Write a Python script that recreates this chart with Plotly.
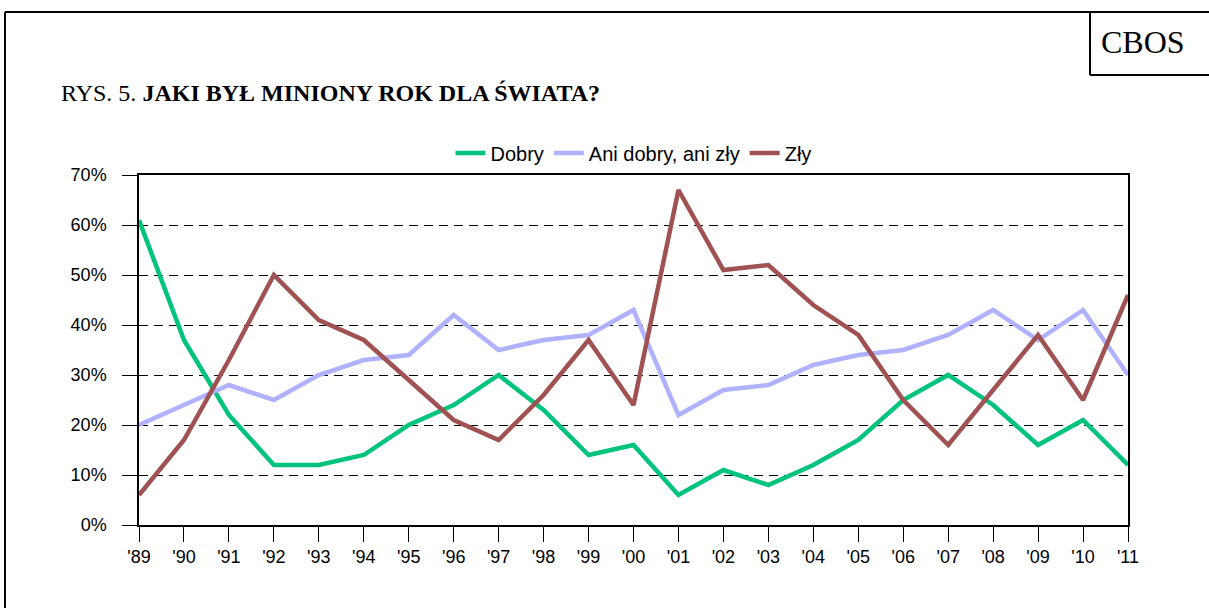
import plotly.graph_objects as go

years = ["'89", "'90", "'91", "'92", "'93", "'94", "'95", "'96", "'97", "'98", "'99", "'00",
         "'01", "'02", "'03", "'04", "'05", "'06", "'07", "'08", "'09", "'10", "'11"]
dobry = [61, 37, 22, 12, 12, 14, 20, 24, 30, 23, 14, 16, 6, 11, 8, 12, 17, 25, 30, 24, 16, 21, 12]
ani = [20, 24, 28, 25, 30, 33, 34, 42, 35, 37, 38, 43, 22, 27, 28, 32, 34, 35, 38, 43, 37, 43, 30]
zly = [6, 17, 33, 50, 41, 37, 29, 21, 17, 26, 37, 24, 67, 51, 52, 44, 38, 25, 16, 27, 38, 25, 46]
yticks = [0, 10, 20, 30, 40, 50, 60, 70]
ytick_labels = [f"{v}%" for v in yticks]

W, H = 1209, 608
L, R, T, B = 139, 1128, 175, 525


def px(x):
    return (x - L) / (R - L)


def py(y):
    return (B - y) / (B - T)


fig = go.Figure()
series = [("Dobry", dobry, "#00C47E"), ("Ani dobry, ani zły", ani, "#B0B2FF"), ("Zły", zly, "#A05252")]
for name, vals, col in series:
    fig.add_trace(go.Scatter(x=list(range(len(years))), y=vals, name=name, mode="lines",
                             line=dict(color=col, width=4.5)))

shapes = []
# page frame
shapes.append(dict(type="line", xref="paper", yref="paper", x0=px(5), x1=px(5), y0=py(12), y1=py(620),
                   line=dict(color="black", width=2)))
shapes.append(dict(type="line", xref="paper", yref="paper", x0=px(5), x1=px(1215), y0=py(12), y1=py(12),
                   line=dict(color="black", width=2)))
# CBOS box
shapes.append(dict(type="line", xref="paper", yref="paper", x0=px(1090), x1=px(1090), y0=py(12), y1=py(75),
                   line=dict(color="black", width=2)))
shapes.append(dict(type="line", xref="paper", yref="paper", x0=px(1090), x1=px(1215), y0=py(75), y1=py(75),
                   line=dict(color="black", width=2)))

annotations = [
    dict(text="CBOS", xref="paper", yref="paper", x=px(1143), y=py(42), xanchor="center", yanchor="middle",
         showarrow=False, font=dict(family="Liberation Serif", size=32, color="black")),
    dict(text="RYS. 5. <b>JAKI BYŁ MINIONY ROK DLA ŚWIATA?</b>", xref="paper", yref="paper",
         x=px(59), y=py(93), xanchor="left", yanchor="middle", showarrow=False,
         font=dict(family="Liberation Serif", size=24, color="black")),
]

fig.update_layout(
    width=W, height=H,
    margin=dict(l=L, r=W - R, t=T, b=H - B),
    paper_bgcolor="white", plot_bgcolor="white",
    showlegend=True,
    legend=dict(orientation="h", x=0.5, xanchor="center", y=py(153), yanchor="middle",
                font=dict(family="Liberation Sans", size=20, color="black"),
                itemwidth=30, tracegroupgap=0, bgcolor="rgba(0,0,0,0)"),
    shapes=shapes,
    annotations=annotations,
    font=dict(family="Liberation Sans", size=18, color="black"),
)
fig.update_xaxes(range=[0, len(years) - 1], tickmode="array", tickvals=list(range(len(years))),
                 ticktext=years, showgrid=False, zeroline=False, showline=True, linecolor="black",
                 linewidth=1.5, mirror=True, ticks="outside", ticklen=15, tickcolor="black",
                 tickfont=dict(family="Liberation Sans", size=18, color="black"))
fig.update_yaxes(range=[0, 70], tickmode="array", tickvals=yticks, ticktext=ytick_labels,
                 showgrid=True, gridcolor="black", gridwidth=1, griddash="9px,6px",
                 zeroline=False, showline=True, linecolor="black", linewidth=1.5,
                 mirror=True, ticks="outside", ticklen=15, tickcolor="black", ticklabelstandoff=12,
                 tickfont=dict(family="Liberation Sans", size=18, color="black"))

fig.write_html("out.html", config={"displayModeBar": False},
               post_script="document.body.style.margin='0px';")
